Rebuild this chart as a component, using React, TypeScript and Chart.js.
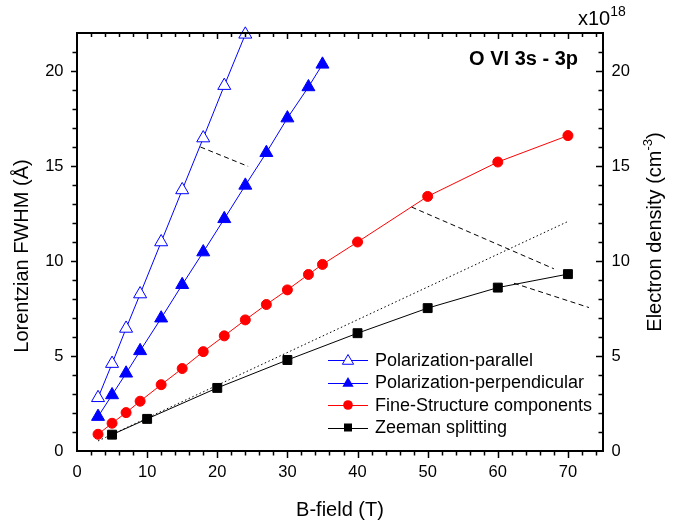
import React, { useEffect, useRef } from "react";
import { Chart, registerables } from "chart.js";

Chart.register(...registerables);

const FONT = "'Liberation Sans', Arial, sans-serif";

// ---- data ----
const bParallel = [3, 5, 7, 9, 12, 15, 18, 21, 24];
const fwhmParallel = [2.8, 4.6, 6.45, 8.26, 11.0, 13.74, 16.47, 19.23, 21.93];

const bPerp = [3, 5, 7, 9, 12, 15, 18, 21, 24, 27, 30, 33, 35];
const fwhmPerp = [1.81, 2.95, 4.09, 5.27, 6.99, 8.75, 10.47, 12.22, 13.98, 15.7, 17.52, 19.16, 20.35];

const bFine = [3, 5, 7, 9, 12, 15, 18, 21, 24, 27, 30, 33, 35, 40, 50, 60, 70];
const fwhmFine = [0.88, 1.46, 2.02, 2.62, 3.49, 4.34, 5.23, 6.06, 6.9, 7.71, 8.48, 9.29, 9.82, 11.0, 13.4, 15.21, 16.6];

const bZeeman = [5, 10, 20, 30, 40, 50, 60, 70];
const fwhmZeeman = [0.86, 1.69, 3.32, 4.79, 6.2, 7.52, 8.6, 9.31];

const bFit = [3, 70];
const fwhmFit = [0.53, 12.08];

const bGuideA = [17.6, 24.4];
const yGuideA = [16.0, 14.98];
const bGuideB = [47.7, 68];
const yGuideB = [12.84, 9.59];
const bGuideC = [62.3, 73];
const yGuideC = [8.83, 7.55];

const xMajorTicks = [0, 10, 20, 30, 40, 50, 60, 70];
const yMajorTicks = [0, 5, 10, 15, 20];

const legendLabels = [
  "Polarization-parallel",
  "Polarization-perpendicular",
  "Fine-Structure components",
  "Zeeman splitting",
];

const BLUE = "#0000ff";
const RED = "#ff0000";
const BLACK = "#000000";

function pts(xs: number[], ys: number[]) {
  return xs.map((x, i) => ({ x, y: ys[i] }));
}

const framePlugin = {
  id: "frame",
  afterDatasetsDraw(chart: any) {
    const { ctx, chartArea: a, scales } = chart;
    const xs = scales.x;
    const ys = scales.y;
    ctx.save();
    ctx.strokeStyle = "#000";
    ctx.lineWidth = 2;
    ctx.strokeRect(a.left, a.top, a.right - a.left, a.bottom - a.top);
    ctx.lineWidth = 1.5;
    ctx.beginPath();
    for (let v = 2; v <= 74; v += 2) {
      const major = v % 10 === 0;
      const px = Math.round(xs.getPixelForValue(v)) + 0.5;
      // bottom, outward
      ctx.moveTo(px, a.bottom);
      ctx.lineTo(px, a.bottom + (major ? 7 : 4.5));
      // top, inward
      ctx.moveTo(px, a.top);
      ctx.lineTo(px, a.top + (major ? 6 : 4));
    }
    for (let v = 1; v <= 21; v += 1) {
      const major = v % 5 === 0;
      const py = Math.round(ys.getPixelForValue(v)) + 0.5;
      // left, outward
      ctx.moveTo(a.left, py);
      ctx.lineTo(a.left - (major ? 6 : 4.5), py);
      // right, inward
      ctx.moveTo(a.right, py);
      ctx.lineTo(a.right - (major ? 7 : 4.5), py);
    }
    ctx.stroke();
    ctx.restore();
  },
};

function drawTriangle(ctx: CanvasRenderingContext2D, x: number, y: number, r: number) {
  ctx.beginPath();
  ctx.moveTo(x, y - r);
  ctx.lineTo(x + r * Math.sin(Math.PI / 3) , y + r * 0.5);
  ctx.lineTo(x - r * Math.sin(Math.PI / 3), y + r * 0.5);
  ctx.closePath();
}

const textPlugin = {
  id: "texts",
  afterDraw(chart: any) {
    const { ctx } = chart;
    ctx.save();
    ctx.fillStyle = "#000";

    // panel title
    ctx.font = `bold 20px ${FONT}`;
    ctx.textAlign = "right";
    ctx.textBaseline = "alphabetic";
    ctx.fillText("O VI 3s - 3p", 578, 65);

    // multiplier
    ctx.textAlign = "left";
    ctx.font = `20px ${FONT}`;
    ctx.fillText("x10", 578, 25);
    const w10 = ctx.measureText("x10").width;
    ctx.font = `14px ${FONT}`;
    ctx.fillText("18", 578 + w10, 16);

    // x title
    ctx.font = `20px ${FONT}`;
    ctx.textAlign = "center";
    ctx.fillText("B-field (T)", 340, 516);

    // left title
    ctx.save();
    ctx.translate(22, 256);
    ctx.rotate(-Math.PI / 2);
    ctx.textBaseline = "middle";
    ctx.textAlign = "center";
    ctx.fillText("Lorentzian FWHM (\u00C5)", 0, 0);
    ctx.restore();

    // right title with superscript
    ctx.save();
    ctx.translate(655, 232);
    ctx.rotate(-Math.PI / 2);
    ctx.textBaseline = "middle";
    ctx.textAlign = "left";
    const p1 = "Electron density (cm";
    const sup = "-3";
    const p3 = ")";
    ctx.font = `20px ${FONT}`;
    const w1 = ctx.measureText(p1).width;
    const w3 = ctx.measureText(p3).width;
    ctx.font = `13px ${FONT}`;
    const w2 = ctx.measureText(sup).width;
    const total = w1 + w2 + w3;
    let cx = -total / 2;
    ctx.font = `20px ${FONT}`;
    ctx.fillText(p1, cx, 0);
    cx += w1;
    ctx.font = `13px ${FONT}`;
    ctx.fillText(sup, cx, -7);
    cx += w2;
    ctx.font = `20px ${FONT}`;
    ctx.fillText(p3, cx, 0);
    ctx.restore();

    // legend
    const rows = [360, 382.5, 405, 427.5];
    const lineColors = [BLUE, BLUE, RED, BLACK];
    ctx.font = `18px ${FONT}`;
    ctx.textAlign = "left";
    ctx.textBaseline = "middle";
    rows.forEach((ry, i) => {
      const yy = Math.round(ry) + 0.5;
      ctx.strokeStyle = lineColors[i];
      ctx.lineWidth = 1;
      ctx.beginPath();
      ctx.moveTo(328, yy);
      ctx.lineTo(368, yy);
      ctx.stroke();
      const mx = 348;
      if (i === 0) {
        drawTriangle(ctx, mx, ry + 1, 6.5);
        ctx.fillStyle = "#fff";
        ctx.fill();
        ctx.strokeStyle = BLUE;
        ctx.stroke();
      } else if (i === 1) {
        drawTriangle(ctx, mx, ry + 1, 6.5);
        ctx.fillStyle = BLUE;
        ctx.fill();
      } else if (i === 2) {
        ctx.beginPath();
        ctx.arc(mx, ry, 4.8, 0, Math.PI * 2);
        ctx.fillStyle = RED;
        ctx.fill();
      } else {
        ctx.fillStyle = BLACK;
        ctx.fillRect(mx - 4, ry - 4, 8, 8);
      }
      ctx.fillStyle = "#000";
      ctx.fillText(legendLabels[i], 375, ry + 1);
    });

    ctx.restore();
  },
};

export default function App() {
  const ref = useRef<HTMLCanvasElement | null>(null);

  useEffect(() => {
    if (!ref.current) return;
    const common = {
      showLine: true,
      borderWidth: 1,
      clip: false as any,
      yAxisID: "y",
    };
    const guide = (xs: number[], ys: number[], dash: number[]) => ({
      data: pts(xs, ys),
      showLine: true,
      borderColor: BLACK,
      borderWidth: 1,
      borderDash: dash,
      pointRadius: 0,
      yAxisID: "y",
      clip: false as any,
    });
    const tickFont = { family: FONT, size: 16.5 };
    const chart = new Chart(ref.current, {
      type: "line",
      data: {
        datasets: [
          guide(bFit, fwhmFit, [1.5, 2.5]),
          guide(bGuideA, yGuideA, [5, 3.5]),
          guide(bGuideB, yGuideB, [5, 3.5]),
          guide(bGuideC, yGuideC, [5, 3.5]),
          {
            ...common,
            label: legendLabels[3],
            data: pts(bZeeman, fwhmZeeman),
            borderColor: BLACK,
            pointStyle: "rect",
            pointRadius: 6.3,
            pointBackgroundColor: BLACK,
            pointBorderColor: BLACK,
          },
          {
            ...common,
            label: legendLabels[2],
            data: pts(bFine, fwhmFine),
            borderColor: RED,
            pointStyle: "circle",
            pointRadius: 5,
            pointBackgroundColor: RED,
            pointBorderColor: RED,
          },
          {
            ...common,
            label: legendLabels[1],
            data: pts(bPerp, fwhmPerp),
            borderColor: BLUE,
            pointStyle: "triangle",
            pointRadius: 7.5,
            pointBackgroundColor: BLUE,
            pointBorderColor: BLUE,
          },
          {
            ...common,
            label: legendLabels[0],
            data: pts(bParallel, fwhmParallel),
            borderColor: BLUE,
            pointStyle: "triangle",
            pointRadius: 7.5,
            pointBackgroundColor: "#ffffff",
            pointBorderColor: BLUE,
            pointBorderWidth: 1,
          },
        ] as any,
      },
      options: {
        responsive: false,
        animation: false,
        devicePixelRatio: 1,
        layout: { padding: { top: 33, left: 0, right: 0, bottom: 0 } },
        plugins: {
          legend: { display: false },
          tooltip: { enabled: false },
          title: { display: false },
        },
        scales: {
          x: {
            type: "linear",
            position: "bottom",
            min: 0,
            max: 75,
            grid: { display: false, drawTicks: false },
            border: { display: false },
            afterBuildTicks: (s: any) => {
              s.ticks = xMajorTicks.map((v) => ({ value: v }));
            },
            afterFit: (s: any) => {
              s.height = 71;
            },
            ticks: { font: tickFont, color: "#000", padding: 12, maxRotation: 0, autoSkip: false },
          },
          y: {
            type: "linear",
            position: "left",
            min: 0,
            max: 22,
            grid: { display: false, drawTicks: false },
            border: { display: false },
            afterBuildTicks: (s: any) => {
              s.ticks = yMajorTicks.map((v) => ({ value: v }));
            },
            afterFit: (s: any) => {
              s.width = 77;
            },
            ticks: { font: tickFont, color: "#000", padding: 13.5 },
          },
          y2: {
            type: "linear",
            position: "right",
            min: 0,
            max: 22,
            grid: { display: false, drawTicks: false },
            border: { display: false },
            afterBuildTicks: (s: any) => {
              s.ticks = yMajorTicks.map((v) => ({ value: v }));
            },
            afterFit: (s: any) => {
              s.width = 83;
            },
            ticks: { font: tickFont, color: "#000", padding: 8.5 },
          },
        },
      } as any,
      plugins: [framePlugin, textPlugin],
    });
    return () => chart.destroy();
  }, []);

  return (
    <div style={{ position: "absolute", left: 0, top: 0, width: 686, height: 522, background: "#fff" }}>
      <canvas ref={ref} width={686} height={522} style={{ display: "block", width: 686, height: 522 }} />
    </div>
  );
}
